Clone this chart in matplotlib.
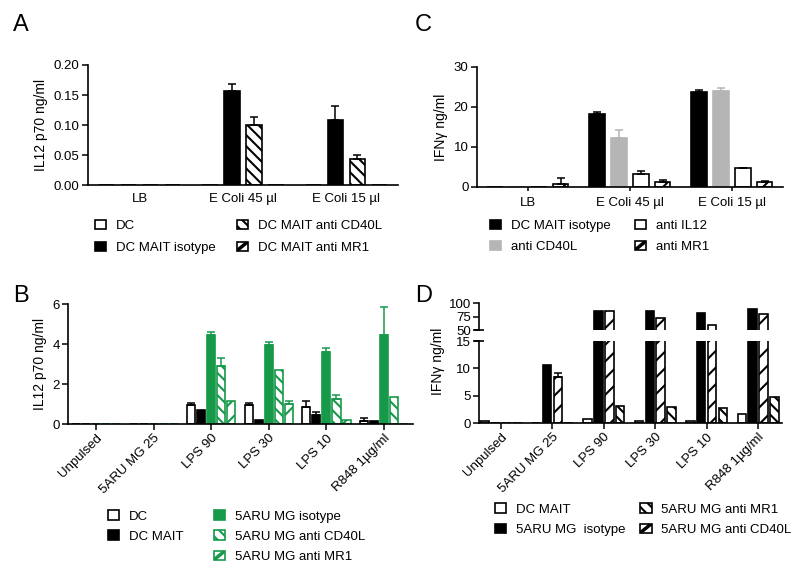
import matplotlib
matplotlib.use('Agg')
import matplotlib.pyplot as plt
import numpy as np
from matplotlib.patches import Patch, Rectangle
from matplotlib.lines import Line2D
from matplotlib.legend_handler import HandlerBase

plt.rcParams['font.family'] = ['Liberation Sans', 'DejaVu Sans']
plt.rcParams['font.size'] = 9.5
plt.rcParams['hatch.linewidth'] = 1.5

GREEN = '#17994a'
GREY = '#b5b5b5'
BS3 = '\\' * 3

# ---- data ----
# panel A: IL12 p70 ng/ml
a_groups = ['LB', 'E Coli 45 µl', 'E Coli 15 µl']
a_dc = [0, 0, 0]
a_dc_err = [0, 0, 0]
a_iso = [0, 0.157, 0.109]
a_iso_err = [0, 0.011, 0.023]
a_cd40l = [0, 0.100, 0.043]
a_cd40l_err = [0, 0.014, 0.008]
a_mr1 = [0, 0, 0]
a_mr1_err = [0, 0, 0]

# panel C: IFNg ng/ml
c_groups = ['LB', 'E Coli 45 µl', 'E Coli 15 µl']
c_iso = [0, 18.1, 23.7]
c_iso_err = [0, 0.5, 0.6]
c_cd40l = [0, 12.2, 24.0]
c_cd40l_err = [0, 1.9, 0.8]
c_il12 = [0, 3.3, 4.7]
c_il12_err = [0, 0.6, 0.1]
c_mr1 = [0.8, 1.3, 1.3]
c_mr1_err = [1.4, 0.3, 0.1]

# panel B: IL12 p70 ng/ml
b_groups = ['Unpulsed', '5ARU MG 25', 'LPS 90', 'LPS 30', 'LPS 10', 'R848 1µg/ml']
b_dc = [0, 0, 0.97, 0.95, 0.85, 0.15]
b_dc_err = [0, 0, 0.08, 0.12, 0.32, 0.15]
b_dcmait = [0, 0, 0.68, 0.2, 0.45, 0.17]
b_dcmait_err = [0, 0, 0, 0, 0.13, 0]
b_iso = [0, 0, 4.47, 3.93, 3.62, 4.45]
b_iso_err = [0, 0, 0.13, 0.17, 0.2, 1.38]
b_cd40l = [0, 0, 2.9, 2.72, 1.27, 1.37]
b_cd40l_err = [0, 0, 0.4, 0, 0.2, 0]
b_mr1 = [0, 0, 1.15, 1.0, 0.2, 0]
b_mr1_err = [0, 0, 0, 0.15, 0, 0]

# panel D: IFNg ng/ml (broken axis)
d_groups = ['Unpulsed', '5ARU MG 25', 'LPS 90', 'LPS 30', 'LPS 10', 'R848 1µg/ml']
d_dcmait = [0.35, 0, 0.65, 0.4, 0.4, 1.65]
d_dcmait_err = [0, 0, 0, 0, 0, 0]
d_iso = [0, 10.6, 85.5, 85.5, 81, 89]
d_iso_err = [0, 0, 0, 0, 0, 0]
d_cd40l = [0, 8.5, 85, 71.5, 60, 80]
d_cd40l_err = [0, 0.7, 0, 0, 0, 0]
d_mr1 = [0, 0, 3.1, 3.0, 2.8, 4.75]
d_mr1_err = [0, 0, 0, 0, 0, 0]


def style(face, edge, hatch=None):
    return dict(facecolor=face, edgecolor=edge, hatch=hatch, linewidth=1.2)


class DiagHandler(HandlerBase):
    # legend box with one thick diagonal, like the coarse "/" bars
    def create_artists(self, legend, orig, xd, yd, w, h, fontsize, trans):
        edge = orig.get_edgecolor()
        rect = Rectangle((-xd, -yd), w, h, facecolor='white', edgecolor=edge,
                         linewidth=1.2, transform=trans)
        line = Line2D([-xd, -xd + w], [-yd, -yd + h], color=edge, linewidth=2.5,
                      solid_capstyle='butt', transform=trans)
        line.set_clip_path(rect)
        return [rect, line]


def grouped(ax, series, errs, styles, width, pitch):
    x = np.arange(len(series[0]))
    k = len(series)
    for i in range(k):
        pos = x + (i - (k - 1) / 2) * pitch
        ax.bar(pos, series[i], width, **styles[i])
        vals = np.array(series[i], dtype=float)
        err = np.array(errs[i], dtype=float)
        m = err > 0
        if m.any():
            ax.errorbar(pos[m], vals[m], yerr=[np.zeros(m.sum()), err[m]],
                        fmt='none', ecolor=styles[i]['edgecolor'],
                        elinewidth=1.1, capsize=3, capthick=1.1)


def clean(ax):
    ax.spines['top'].set_visible(False)
    ax.spines['right'].set_visible(False)
    ax.spines['left'].set_linewidth(1.2)
    ax.spines['bottom'].set_linewidth(1.2)
    ax.tick_params(direction='out', length=4, width=1.1, pad=2)


def legend(styles, labels, x, y, colsp, labsp):
    handles = []
    hmap = {}
    for s in styles:
        if s is None:
            p = Patch(facecolor='none', edgecolor='none')
        else:
            p = Patch(**s)
            if s['hatch'] == '//':
                hmap[p] = DiagHandler()
        handles.append(p)
    fig.legend(handles, labels, ncol=2, loc='upper left', bbox_to_anchor=(x, y),
               frameon=False, borderpad=0, borderaxespad=0, handlelength=0.85,
               handleheight=0.7, handletextpad=0.75, columnspacing=colsp,
               labelspacing=labsp, handler_map=hmap)


fig = plt.figure(figsize=(8, 5.75), dpi=100)

# ---- A ----
axA = fig.add_axes([0.11, 0.678, 0.3875, 0.209])
stA = [style('white', 'black'), style('black', 'black'),
       style('white', 'black', BS3), style('white', 'black', '//')]
grouped(axA, [a_dc, a_iso, a_cd40l, a_mr1],
        [a_dc_err, a_iso_err, a_cd40l_err, a_mr1_err], stA, 0.146, 0.213)
axA.set_xlim(-0.5, 2.5)
axA.set_ylim(0, 0.2)
axA.set_yticks([0, 0.05, 0.10, 0.15, 0.20])
axA.yaxis.set_major_formatter(matplotlib.ticker.FormatStrFormatter('%.2f'))
axA.set_xticks(range(3))
axA.set_xticklabels(a_groups)
axA.set_ylabel('IL12 p70 ng/ml', fontsize=10)
clean(axA)
axA.tick_params(axis='x', length=0, pad=6)
legend(stA, ['DC', 'DC MAIT isotype', 'DC MAIT anti CD40L', 'DC MAIT anti MR1'],
       0.119, 0.618, 1.55, 0.75)

# ---- C ----
axC = fig.add_axes([0.596, 0.675, 0.3825, 0.2087])
stC = [style('black', 'black'), style(GREY, GREY),
       style('white', 'black'), style('white', 'black', '//')]
grouped(axC, [c_iso, c_cd40l, c_il12, c_mr1],
        [c_iso_err, c_cd40l_err, c_il12_err, c_mr1_err], stC, 0.152, 0.215)
axC.set_xlim(-0.5, 2.5)
axC.set_ylim(0, 30)
axC.set_yticks([0, 10, 20, 30])
axC.set_xticks(range(3))
axC.set_xticklabels(c_groups)
axC.set_ylabel('IFNγ ng/ml', fontsize=10)
clean(axC)
axC.tick_params(axis='x', length=3, pad=4)
legend(stC, ['DC MAIT isotype', 'anti CD40L', 'anti IL12', 'anti MR1'],
       0.6125, 0.618, 1.8, 0.7)

# ---- B ----
axB = fig.add_axes([0.085, 0.2626, 0.431, 0.2087])
stB = [style('white', 'black'), style('black', 'black'), style(GREEN, GREEN),
       style('white', GREEN, BS3), style('white', GREEN, '//')]
grouped(axB, [b_dc, b_dcmait, b_iso, b_cd40l, b_mr1],
        [b_dc_err, b_dcmait_err, b_iso_err, b_cd40l_err, b_mr1_err], stB, 0.14, 0.174)
axB.set_xlim(-0.49, 5.5)
axB.set_ylim(0, 6)
axB.set_yticks([0, 2, 4, 6])
axB.set_xticks(range(6))
axB.set_xticklabels(b_groups, rotation=45, ha='right', rotation_mode='anchor')
axB.set_ylabel('IL12 p70 ng/ml', fontsize=10)
clean(axB)
legend([stB[0], stB[1], None, stB[2], stB[3], stB[4]],
       ['DC', 'DC MAIT', '', '5ARU MG isotype', '5ARU MG anti CD40L',
        '5ARU MG anti MR1'], 0.135, 0.1125, 2.3, 0.6)

# ---- D (broken y axis) ----
axDl = fig.add_axes([0.599, 0.2643, 0.379, 0.1426])
axDu = fig.add_axes([0.599, 0.426, 0.379, 0.047])
stD = [style('white', 'black'), style('black', 'black'),
       style('white', 'black', '//'), style('white', 'black', BS3)]
for ax in (axDl, axDu):
    grouped(ax, [d_dcmait, d_iso, d_cd40l, d_mr1],
            [d_dcmait_err, d_iso_err, d_cd40l_err, d_mr1_err], stD, 0.165, 0.213)
    ax.set_xlim(-0.42, 5.47)
    clean(ax)
axDl.set_ylim(0, 15)
axDl.set_yticks([0, 5, 10, 15])
axDl.set_xticks(range(6))
axDl.set_xticklabels(d_groups, rotation=45, ha='right', rotation_mode='anchor')
axDu.set_ylim(50, 100)
axDu.set_yticks([50, 75, 100])
axDu.spines['bottom'].set_visible(False)
axDu.set_xticks([])
axDu.plot([0], [0], marker='_', markersize=7, mew=1.2, color='black',
          transform=axDu.transAxes, clip_on=False)
axDl.plot([0], [1], marker='_', markersize=7, mew=1.2, color='black',
          transform=axDl.transAxes, clip_on=False)
fig.text(0.548, 1 - 361 / 575, 'IFNγ ng/ml', rotation=90, ha='center', va='center',
         fontsize=10)
legend([stD[0], stD[1], stD[3], stD[2]],
       ['DC MAIT', '5ARU MG  isotype', '5ARU MG anti MR1', '5ARU MG anti CD40L'],
       0.619, 0.1245, 1.1, 0.6)

# panel letters
for lab, x, y in [('A', 0.016, 0.975), ('C', 0.519, 0.975),
                  ('B', 0.016, 0.505), ('D', 0.519, 0.505)]:
    fig.text(x, y, lab, fontsize=17, ha='left', va='top')

fig.savefig('out.png', dpi=100)
